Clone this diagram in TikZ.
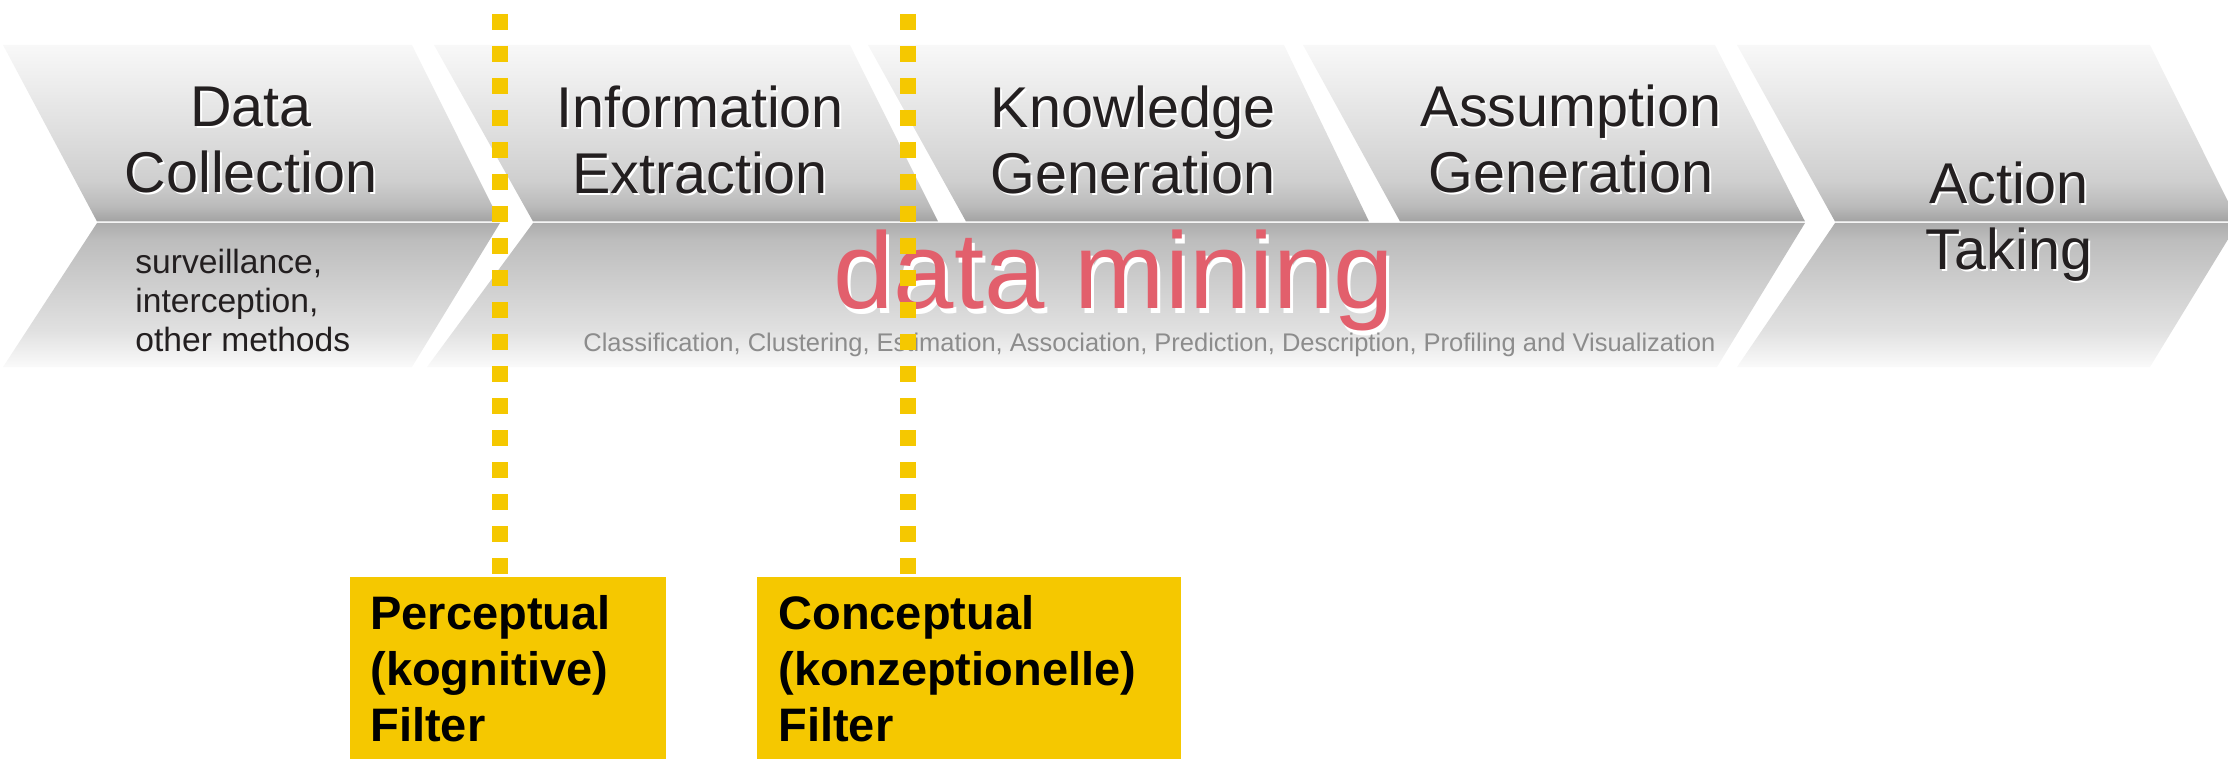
\documentclass[tikz,border=0pt]{standalone}
\usepackage{fontspec}
\setmainfont{Liberation Sans}
\definecolor{uA}{HTML}{A2A2A2}
\definecolor{uB}{HTML}{BBBBBB}
\definecolor{uC}{HTML}{CFCFCF}
\definecolor{uD}{HTML}{E2E2E2}
\definecolor{uE}{HTML}{F8F8F8}
\definecolor{lA}{HTML}{ADADAD}
\definecolor{lB}{HTML}{BDBDBD}
\definecolor{lC}{HTML}{CDCDCD}
\definecolor{lD}{HTML}{E0E0E0}
\definecolor{lE}{HTML}{FAFAFA}
\definecolor{titlec}{HTML}{231F20}
\definecolor{dmred}{HTML}{E25F6C}
\definecolor{subgray}{HTML}{8C8C8C}
\definecolor{fyellow}{HTML}{F5C800}
\pgfdeclareverticalshading{upsh}{100bp}{color(0bp)=(uA); color(25bp)=(uA); color(29.5bp)=(uB); color(36.6bp)=(uC); color(53.7bp)=(uD); color(75bp)=(uE); color(100bp)=(uE)}
\pgfdeclareverticalshading{losh}{100bp}{color(0bp)=(lE); color(25bp)=(lE); color(38bp)=(lD); color(55bp)=(lC); color(69bp)=(lB); color(75bp)=(lA); color(100bp)=(lA)}
\tikzset{
  upperhalf/.style={shading=upsh},
  lowerhalf/.style={shading=losh},
  chvtitle/.style={font=\fontsize{28.75}{33}\selectfont, text=titlec, align=center, inner sep=0pt, anchor=base},
  chvshadow/.style={chvtitle, text=white, xshift=1pt, yshift=-1pt},
  methods/.style={font=\fontsize{16.8}{19.5}\selectfont, text=titlec, align=left, inner sep=0pt, anchor=base west},
  dmtext/.style={font=\fontsize{54.25}{60}\selectfont, text=dmred, inner sep=0pt, anchor=base},
  dmshadow/.style={dmtext, text=white, xshift=1.5pt, yshift=-2.5pt},
  subtext/.style={font=\fontsize{12.75}{15}\selectfont, text=subgray, inner sep=0pt, anchor=base west},
  filterbox/.style={fill=fyellow, rectangle, anchor=north west, align=left, inner ysep=0pt,
    minimum height=91pt, font=\fontsize{23.5}{28}\selectfont\bfseries, text=black},
  filterdots/.style={draw=fyellow, line width=8pt, dash pattern=on 8pt off 8pt}
}
\begin{document}
\begin{tikzpicture}[x=0.5pt,y=-0.5pt]
\path[use as bounding box] (0,0) rectangle (2228,759);
\clip (0,0) rectangle (2228,759);
% upper halves of the chevrons
\shade[upperhalf] (3,45) -- (412,45) -- (500,221.5) -- (97,221.5) -- cycle;
\shade[upperhalf] (434,45) -- (850,45) -- (938,221.5) -- (533,221.5) -- cycle;
\shade[upperhalf] (868,45) -- (1284,45) -- (1369,221.5) -- (966,221.5) -- cycle;
\shade[upperhalf] (1303,45) -- (1715,45) -- (1805,221.5) -- (1400,221.5) -- cycle;
\shade[upperhalf] (1737,45) -- (2150,45) -- (2238,221.5) -- (1835,221.5) -- cycle;
% lower halves
\shade[lowerhalf] (97,223) -- (500,223) -- (412,367) -- (3,367) -- cycle;
\shade[lowerhalf] (533,223) -- (1805,223) -- (1717,367) -- (427,367) -- cycle;
\shade[lowerhalf] (1835,223) -- (2238,223) -- (2150,367) -- (1737,367) -- cycle;
% titles (base anchor = baseline of the last line)
\node[chvshadow] (dcS) at (251,193) {Data\\Collection};
\node[chvtitle]  (dcT) at (251,193) {Data\\Collection};
\node[chvshadow] (ieS) at (700,194) {Information\\Extraction};
\node[chvtitle]  (ieT) at (700,194) {Information\\Extraction};
\node[chvshadow] (kgS) at (1133,194) {Knowledge\\Generation};
\node[chvtitle]  (kgT) at (1133,194) {Knowledge\\Generation};
\node[chvshadow] (agS) at (1571,193) {Assumption\\Generation};
\node[chvtitle]  (agT) at (1571,193) {Assumption\\Generation};
\node[chvshadow] (atS) at (2009,270) {Action\\Taking};
\node[chvtitle]  (atT) at (2009,270) {Action\\Taking};
% lower texts
\node[methods] (meth) at (135,351) {surveillance,\\interception,\\other methods};
\node[dmshadow] (dmS) at (1114,309) {data mining};
\node[dmtext]   (dmT) at (1114,309) {data mining};
\node[subtext] (tech) at (583,351) {Classification, Clustering, Estimation, Association, Prediction, Description, Profiling and Visualization};
% filter boxes
\node[filterbox, minimum width=158pt, text width=138pt, inner xsep=10pt] (pbox) at (350,577) {Perceptual\\(kognitive)\\Filter};
\node[filterbox, minimum width=212pt, text width=191pt, inner xsep=10.5pt] (cbox) at (757,577) {Conceptual\\(konzeptionelle)\\Filter};
% dotted filter lines
\coordinate (ptop) at (500,14);
\coordinate (ctop) at (908,14);
\draw[filterdots] (ptop) -- (ptop |- pbox.north);
\draw[filterdots] (ctop) -- (ctop |- cbox.north);
\end{tikzpicture}
\end{document}
